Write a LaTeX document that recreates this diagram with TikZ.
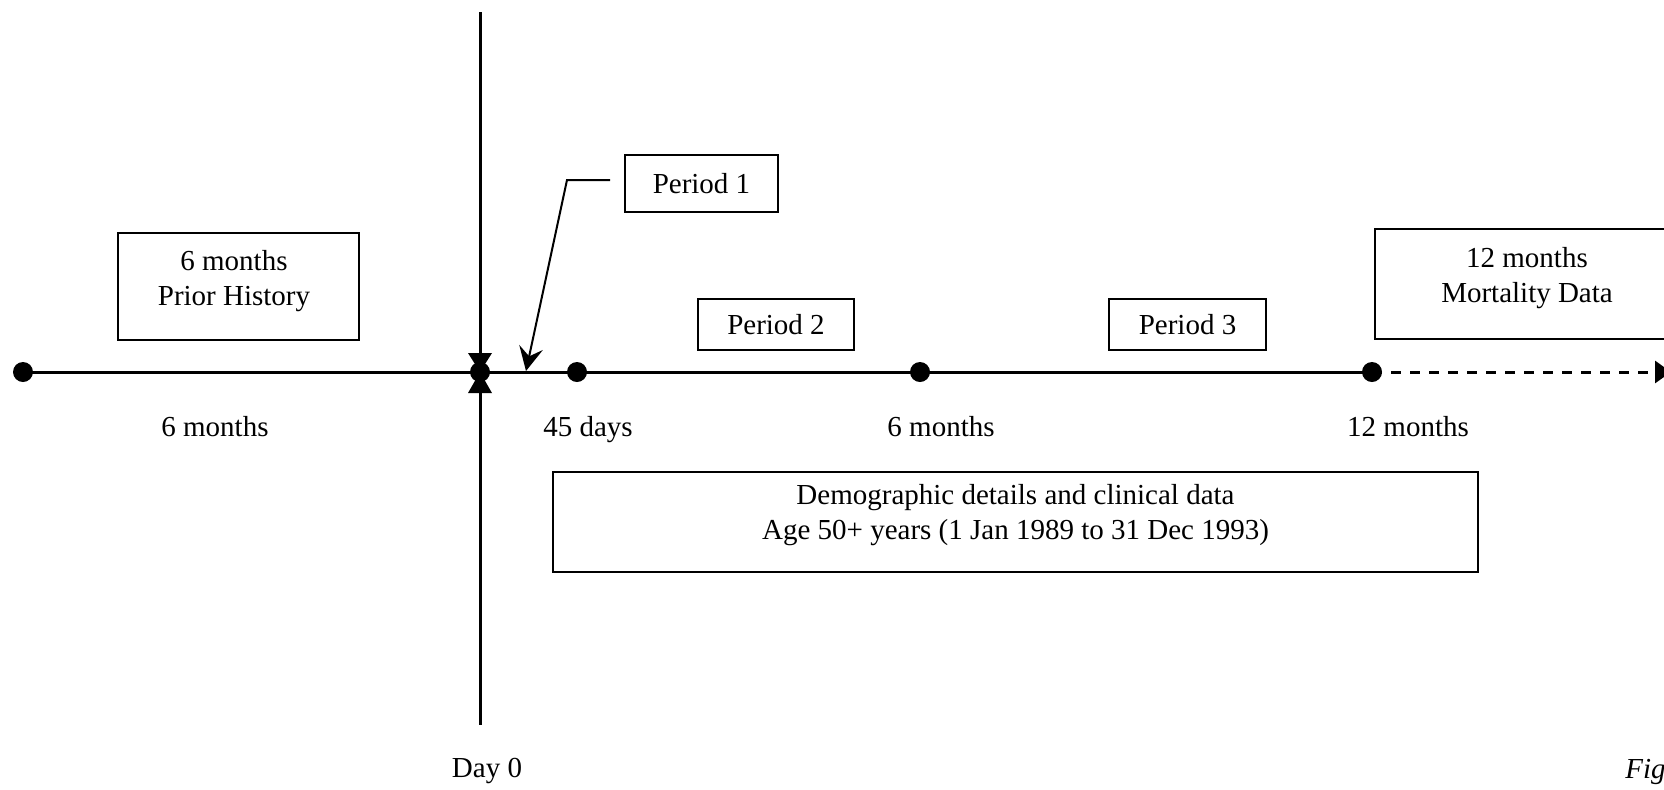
\documentclass[tikz,border=0pt]{standalone}
\usepackage{fontspec}
\setmainfont{Liberation Serif}
\usetikzlibrary{arrows.meta}
\begin{document}
\begin{tikzpicture}[x=0.5pt,y=-0.5pt,
  txt/.style={font=\fontsize{14.5}{17}\selectfont, inner sep=0pt, anchor=base},
  boxtxt/.style={font=\fontsize{14.5}{17.5}\selectfont, inner sep=0pt, align=center},
  frame/.style={draw, line width=1.2pt, minimum width=#1, inner sep=0pt},
  dot/.style={circle, fill=black, inner sep=0pt, minimum size=10pt},
  axis/.style={line width=1.5pt},
]
\clip (0,0) rectangle (1664,789);
\useasboundingbox (0,0) rectangle (1664,789);

% dots on the time line
\node[dot] (d0)  at (23,372) {};
\node[dot] (day0) at (480,372) {};
\node[dot] (d45) at (577,372) {};
\node[dot] (d6)  at (920,372) {};
\node[dot] (d12) at (1372,372) {};
\coordinate (vtop) at (480,12);
\coordinate (vbot) at (480,725);
\coordinate (tend) at (1671,372);
\coordinate (p1hit) at (526,371);

% vertical Day 0 line
\draw[axis] (vtop) -- (vbot);
% main time line
\draw[axis] (d0.center) -- (d12.center);
\draw[axis, dash pattern=on 5pt off 4.5pt, -{Triangle[length=8pt,width=11pt]}] (d12.center) -- (tend);
% hourglass at Day 0
\fill (468,353) -- (492,353) -- (day0.center) -- cycle;
\fill (468,393) -- (492,393) -- (day0.center) -- cycle;

% boxes
\node[frame=120.5pt, minimum height=53.5pt] (prior) at (238.5,286.5) {};
\node[boxtxt] (priort) at (234,281) {6 months\\Prior History};

\node[frame=76.5pt, minimum height=28.5pt] (p1) at (701.5,183.5) {};
\node[boxtxt] (p1t) at (p1.center) {Period 1};

\node[frame=78pt, minimum height=25.5pt] (p2) at (776,324.5) {};
\node[boxtxt] (p2t) at (p2.center) {Period 2};

\node[frame=78.5pt, minimum height=25.5pt] (p3) at (1187.5,324.5) {};
\node[boxtxt] (p3t) at (p3.center) {Period 3};

\node[frame=165pt, minimum height=55pt] (mort) at (1540,284) {};
\node[boxtxt] (mortt) at (1527,278) {12 months\\Mortality Data};

\node[frame=462.5pt, minimum height=50pt] (demo) at (1015.5,522) {};
\node[boxtxt] (demot) at (1015.5,515) {Demographic details and clinical data\\Age 50+ years (1 Jan 1989 to 31 Dec 1993)};

% Period 1 pointer
\coordinate (p1s) at (610,180);
\coordinate (p1k) at (567,180);
\draw[line width=1pt, -{Stealth[length=12pt,width=12pt,inset=4.5pt]}] (p1s) -- (p1k) -- (p1hit);

% labels under the line
\node[txt] (l6a) at (215,436) {6 months};
\node[txt] (l45) at (588,436) {45 days};
\node[txt] (l6b) at (941,436) {6 months};
\node[txt] (l12) at (1408,436) {12 months};
\node[txt] (lday) at (487,777) {Day 0};
\node[txt, anchor=base west] (fig) at (1625,778) {\itshape Figure};
\end{tikzpicture}
\end{document}
